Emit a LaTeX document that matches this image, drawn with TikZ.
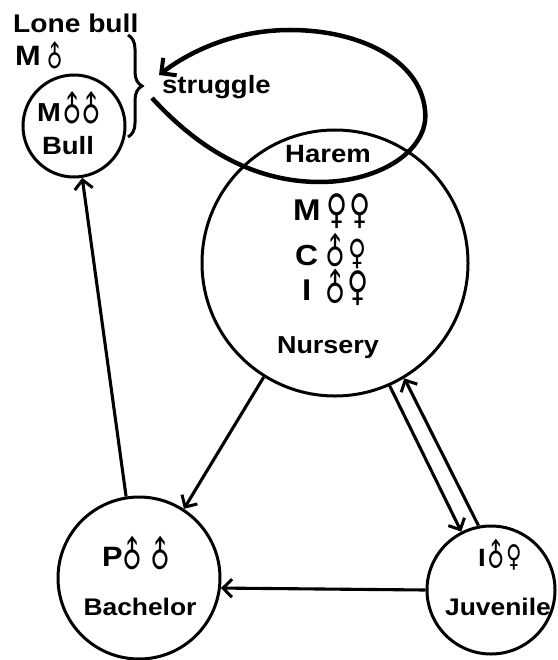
\documentclass[tikz,border=0pt]{standalone}
\usepackage{fontspec}
\usepackage{graphicx}
\setmainfont{Liberation Sans}[FakeStretch=1.1]
\newfontfamily\symfb{DejaVu Sans Bold}
\usetikzlibrary{arrows.meta,decorations.pathreplacing}
\newcommand\myfs[1]{\fontsize{#1}{#1}\selectfont\bfseries}
\newcommand\symfs[1]{\fontsize{#1}{#1}\selectfont\symfb}
\newcommand\fsym{\scalebox{0.85}[1.2]{♀}}
\newcommand\msymb{\scalebox{0.85}[1.12]{\rotatebox[origin=c]{45}{♂}}}
\begin{document}
\begin{tikzpicture}[x=1pt,y=-1pt,
  ring/.style={circle, draw, line width=3pt, inner sep=0pt},
  lbl/.style={inner sep=0pt, anchor=base},
  ltr/.style={inner sep=0pt, anchor=base west},
  sym/.style={inner sep=0pt, font=\symfs{#1}},
  flow/.style={line width=3.1pt, -{Straight Barb[length=9pt,width=18pt,line width=3pt]}},
  fight/.style={line width=4.5pt, -{Straight Barb[length=11pt,width=22pt,line width=4pt]}},
]
\useasboundingbox (0,0) rectangle (557,660);
% circles
\node[ring, minimum size=266pt] (nurs) at (335,263) {};
\node[ring, minimum size=102pt] (bull) at (74,126) {};
\node[ring, minimum size=162pt] (bach) at (139,578) {};
\node[ring, minimum size=128pt] (juv) at (491,590) {};
% connectors
\draw[flow] (nurs.-66) -- (juv.117);
\draw[flow] (juv.101) -- (nurs.-59);
\draw[flow] (nurs.238) -- (bach.57);
\draw[flow] (bach.99) -- (bull.-81);
\draw[flow] (juv.180) -- (bach.-7);
% struggle loop
\coordinate (s1) at (152,98);
\coordinate (s2) at (159,75);
\draw[fight] (s1) .. controls (195,145) and (250,182) .. (320,182)
  .. controls (380,182) and (430,150) .. (425,110)
  .. controls (420,60) and (360,30) .. (290,30)
  .. controls (230,30) and (185,55) .. (s2);
% brace
\coordinate (b1) at (128,35);
\coordinate (b2) at (128,137);
\draw[line width=3pt, decorate, decoration={brace, amplitude=14pt}] (b1) -- (b2);
% plain texts
\node[ltr, font=\myfs{25.6}] (lone) at (13,33) {Lone bull};
\node[lbl, font=\myfs{25}] (bullt) at (68,155) {Bull};
\node[ltr, font=\myfs{25}] (strug) at (162,94) {struggle};
\node[lbl, font=\myfs{25}] (harem) at (328,163) {Harem};
\node[lbl, font=\myfs{24.5}] (nurt) at (328,353) {Nursery};
\node[lbl, font=\myfs{24}] (bacht) at (140,615) {Bachelor};
\node[lbl, font=\myfs{24}] (juvt) at (498,615) {Juvenile};
% class letters
\node[ltr, font=\myfs{28}] (lonem) at (15,66) {M};
\node[ltr, font=\myfs{26}] (bullm) at (37,122) {M};
\node[ltr, font=\myfs{30}] (nm) at (293,220) {M};
\node[ltr, font=\myfs{29}] (nc) at (295,265) {C};
\node[ltr, font=\myfs{30}] (ni) at (302,300) {I};
\node[ltr, font=\myfs{28}] (bp) at (102,566) {P};
\node[ltr, font=\myfs{25}] (ji) at (478,566) {I};
% sex symbols
\node[sym=26] (lonem1) at (55,57) {\msymb};
\node[sym=31] (bullm1) at (72,110) {\msymb};
\node[sym=31] (bullm2) at (91,110) {\msymb};
\node[sym=34] (nmf1) at (337,211) {\fsym};
\node[sym=34] (nmf2) at (360,211) {\fsym};
\node[sym=32] (ncm) at (335,252) {\msymb};
\node[sym=29] (ncf) at (358,254) {\fsym};
\node[sym=33] (nim) at (335,289) {\msymb};
\node[sym=34] (nif) at (358,288) {\fsym};
\node[sym=32] (bpm1) at (132,555) {\msymb};
\node[sym=32] (bpm2) at (160,555) {\msymb};
\node[sym=28] (jim) at (496,556) {\msymb};
\node[sym=25] (jif) at (514,557) {\fsym};
\end{tikzpicture}
\end{document}
